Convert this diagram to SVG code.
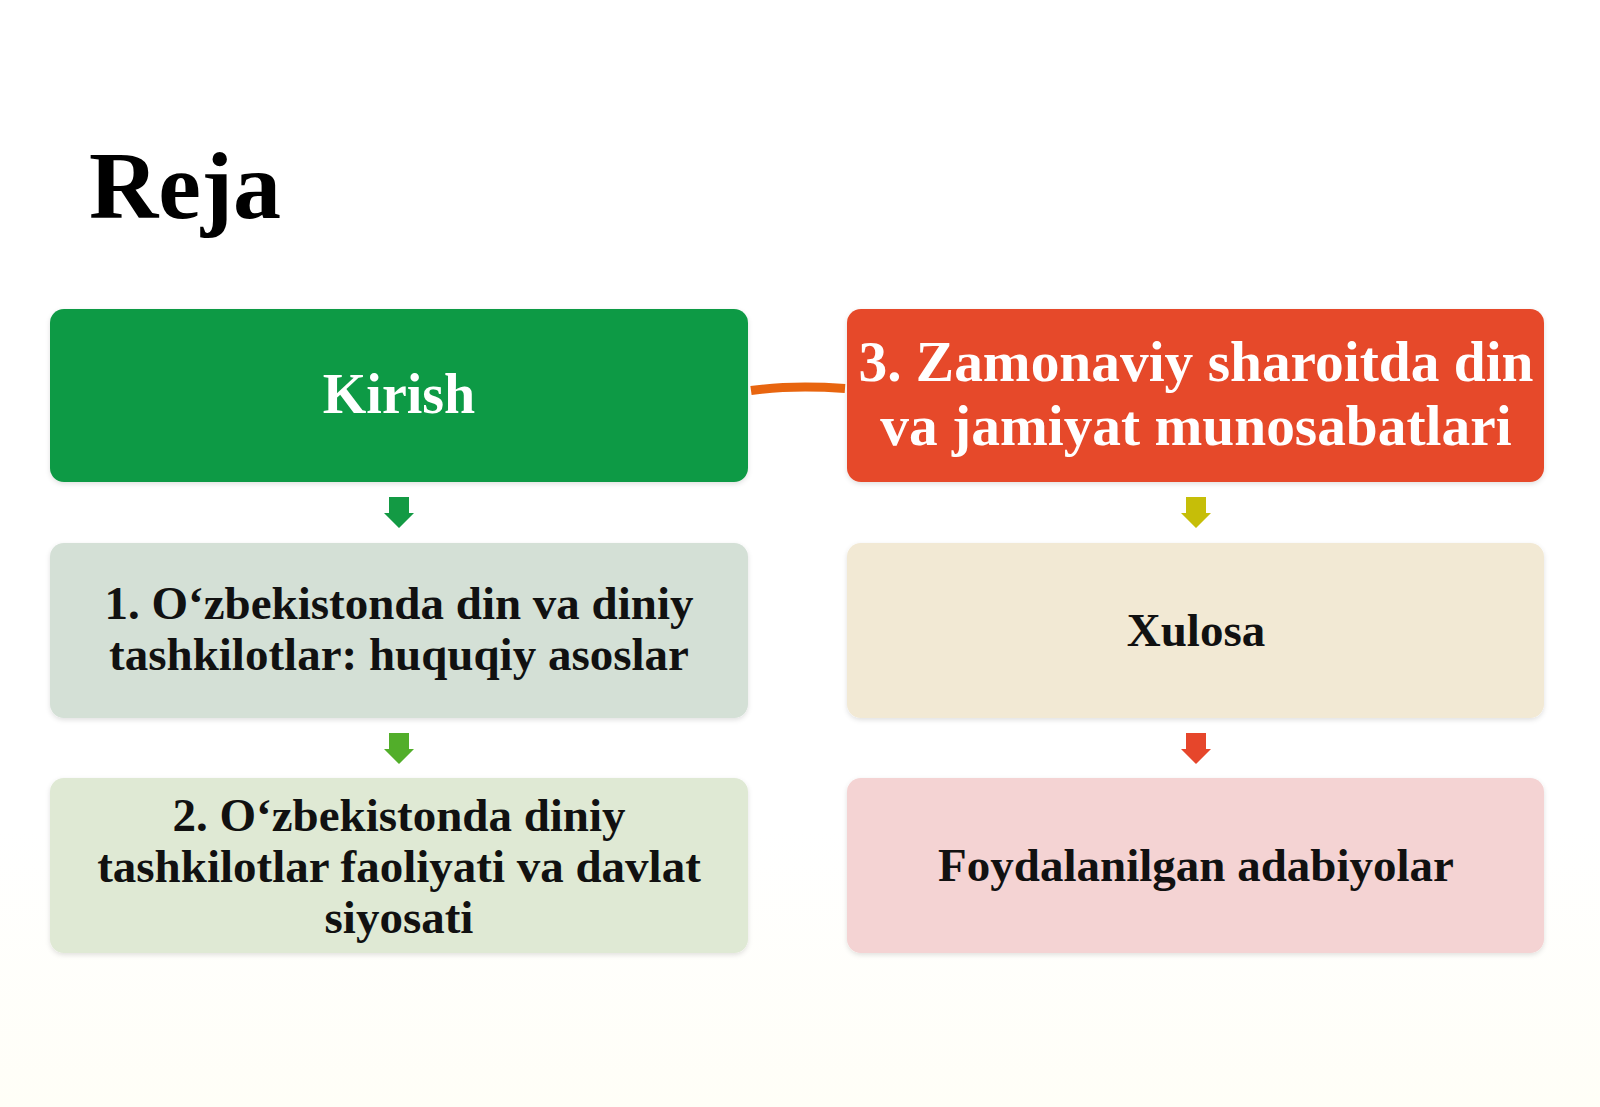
<svg xmlns="http://www.w3.org/2000/svg" width="1600" height="1107" viewBox="0 0 1600 1107">
  <defs>
    <filter id="sh" x="-5%" y="-10%" width="110%" height="125%">
      <feDropShadow dx="0" dy="2" stdDeviation="2.5" flood-color="#000" flood-opacity="0.12"/>
    </filter>
    <linearGradient id="bg" x1="0" y1="0" x2="0" y2="1">
      <stop offset="0" stop-color="#ffffff"/>
      <stop offset="0.75" stop-color="#ffffff"/>
      <stop offset="1" stop-color="#fffef7"/>
    </linearGradient>
  </defs>
  <style>
    .t { font-family: "Liberation Serif", "Times New Roman", serif; font-weight: bold; text-anchor: middle; }
    .w { fill: #ffffff; font-size: 56px; }
    .wl { fill: #ffffff; font-size: 57.4px; }
    .d { fill: #111111; font-size: 47px; }
    .box { filter: url(#sh); }
  </style>
  <rect x="0" y="0" width="1600" height="1107" fill="url(#bg)"/>

  <text x="89" y="218" font-family="Liberation Serif, Times New Roman, serif" font-weight="bold" font-size="96" fill="#000">Reja</text>

  <g id="connectors">
    <path d="M751 390.5 C 780 386.5, 815 386.5, 845 388.5" stroke="#E8650F" stroke-width="9" fill="none" stroke-linecap="butt"/>
    <path d="M389 497 H409 V513 H414 L399 528 L384 513 H389 Z" fill="#139A44"/>
    <path d="M389 733 H409 V749 H414 L399 764 L384 749 H389 Z" fill="#52AE2A"/>
    <path d="M1186 497 H1206 V513 H1211 L1196 528 L1181 513 H1186 Z" fill="#C6BE08"/>
    <path d="M1186 733 H1206 V749 H1211 L1196 764 L1181 749 H1186 Z" fill="#E6462B"/>
  </g>

  <g id="kirish">
    <rect class="box" x="50" y="309" width="698" height="173" rx="14" fill="#0F9A45"/>
    <text class="t w" x="399" y="413">Kirish</text>
  </g>

  <g id="zamonaviy">
    <rect class="box" x="847" y="309" width="697" height="173" rx="14" fill="#E64A2A"/>
    <text class="t wl" x="1196" y="381">3. Zamonaviy sharoitda din</text>
    <text class="t wl" x="1196" y="445">va jamiyat munosabatlari</text>
  </g>

  <g id="huquqiy">
    <rect class="box" x="50" y="543" width="698" height="175" rx="14" fill="#D4E0D6"/>
    <text class="t d" x="399" y="619">1. O‘zbekistonda din va diniy</text>
    <text class="t d" x="399" y="670">tashkilotlar: huquqiy asoslar</text>
  </g>

  <g id="xulosa">
    <rect class="box" x="847" y="543" width="697" height="175" rx="14" fill="#F2E9D4"/>
    <text class="t d" x="1196" y="646">Xulosa</text>
  </g>

  <g id="faoliyat">
    <rect class="box" x="50" y="778" width="698" height="175" rx="14" fill="#DFE9D4"/>
    <text class="t d" x="399" y="831">2. O‘zbekistonda diniy</text>
    <text class="t d" x="399" y="882">tashkilotlar faoliyati va davlat</text>
    <text class="t d" x="399" y="933">siyosati</text>
  </g>

  <g id="adabiyotlar">
    <rect class="box" x="847" y="778" width="697" height="175" rx="14" fill="#F4D3D3"/>
    <text class="t d" x="1196" y="881">Foydalanilgan adabiyolar</text>
  </g>
</svg>
